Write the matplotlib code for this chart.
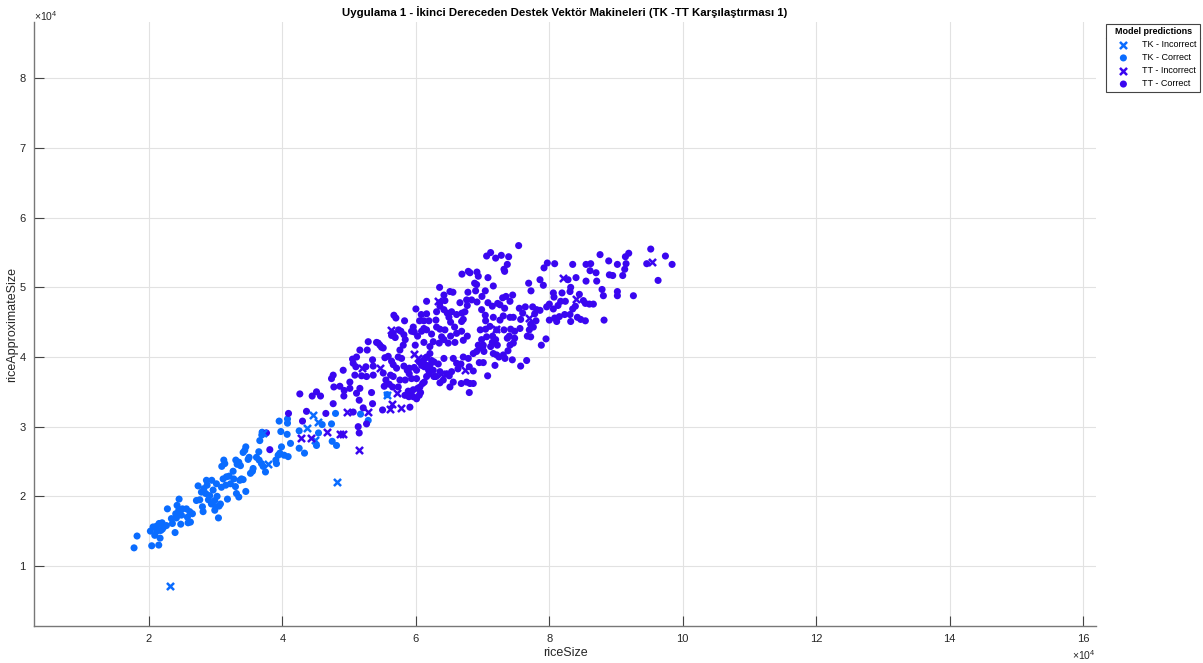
import numpy as np
import matplotlib.pyplot as plt
from matplotlib.lines import Line2D

plt.rcParams['font.family'] = ['Liberation Sans', 'DejaVu Sans']
plt.rcParams['mathtext.fontset'] = 'custom'
plt.rcParams['mathtext.rm'] = 'Liberation Sans'

# all values in units of 1e4
tk_correct_size = [1.775, 1.82, 2.04, 2.145, 2.02, 2.085, 2.165, 2.06, 2.11, 2.15,
                   2.195, 2.22, 2.175, 2.26, 2.20, 2.12, 2.39, 2.275, 2.35, 2.335,
                   2.41, 2.445, 2.475, 2.40, 2.45, 2.42, 2.50, 2.485, 2.56, 2.61,
                   2.585, 2.62, 2.65, 2.575, 2.735, 2.76, 2.71, 2.80, 2.81, 2.785,
                   2.82, 2.86, 2.87, 2.85, 2.89, 2.91, 2.94, 2.96, 2.935, 2.985,
                   3.01, 3.02, 3.00, 3.04, 3.05, 3.07, 2.985, 3.11, 3.135, 3.12,
                   3.09, 3.15, 3.175, 3.085, 3.16, 3.20, 3.22, 3.26, 3.295, 3.31,
                   3.27, 3.32, 3.30, 3.345, 3.37, 3.36, 3.385, 3.41, 3.345, 3.435,
                   3.41, 3.45, 3.485, 3.50, 3.45, 3.52, 3.55, 3.56, 3.61, 3.645,
                   3.65, 3.685, 3.71, 3.745, 3.66, 3.695, 3.69, 3.91, 3.90, 3.935,
                   3.96, 3.985, 3.95, 4.075, 4.075, 3.975, 4.07, 4.12, 4.025, 4.085,
                   4.25, 4.25, 4.33, 4.51, 4.54, 4.595, 4.745, 4.81, 5.57, 5.17,
                   5.285, 4.795, 4.735]
tk_correct_approx = [1.26, 1.43, 1.29, 1.30, 1.50, 1.44, 1.40, 1.56, 1.57, 1.61,
                     1.62, 1.56, 1.51, 1.58, 1.53, 1.50, 1.48, 1.82, 1.61, 1.68,
                     1.69, 1.80, 1.60, 1.75, 1.96, 1.87, 1.82, 1.73, 1.82, 1.78,
                     1.62, 1.63, 1.75, 1.70, 2.15, 1.95, 1.94, 1.85, 1.78, 2.06,
                     2.11, 2.23, 2.16, 2.04, 1.95, 2.01, 2.23, 2.09, 1.89, 1.94,
                     2.18, 2.00, 1.85, 1.69, 1.86, 1.89, 1.80, 2.25, 2.47, 2.52,
                     2.43, 2.16, 1.96, 2.13, 2.28, 2.29, 2.18, 2.36, 2.14, 2.04,
                     2.25, 2.46, 2.52, 2.49, 2.44, 2.23, 2.25, 2.24, 1.99, 2.66,
                     2.63, 2.71, 2.53, 2.56, 2.07, 2.33, 2.36, 2.40, 2.56, 2.64,
                     2.52, 2.47, 2.43, 2.35, 2.80, 2.92, 2.88, 2.47, 2.52, 2.59,
                     2.62, 2.71, 3.08, 3.11, 3.05, 2.93, 2.89, 2.76, 2.59, 2.57,
                     2.94, 2.69, 2.62, 2.73, 2.91, 3.03, 2.79, 2.73, 3.46, 3.18,
                     3.09, 3.19, 3.04]

tk_wrong_size = [2.32, 3.785, 3.705, 4.46, 4.535, 4.37, 4.49, 4.81, 5.57]
tk_wrong_approx = [0.71, 2.46, 2.91, 3.17, 3.07, 2.98, 2.81, 2.21, 3.46]

tt_wrong_size = [4.285, 4.42, 4.66, 4.86, 4.90, 5.145, 4.96, 5.285, 5.61, 5.64,
                 5.775, 5.71, 5.185, 5.46, 5.62, 5.97, 6.035, 6.335, 6.37, 6.735,
                 7.195, 7.70, 8.20, 8.40, 9.54]
tt_wrong_approx = [2.84, 2.84, 2.92, 2.90, 2.89, 2.66, 3.21, 3.21, 3.26, 3.33,
                   3.27, 3.48, 3.84, 3.84, 4.39, 4.04, 3.98, 4.81, 3.76, 3.81,
                   4.40, 4.56, 5.13, 4.83, 5.37]

tt_correct_size = [3.81, 3.76, 4.09, 4.30, 4.36, 4.65, 5.15, 4.26, 4.445, 4.51, 4.57,
                   7.06, 7.12, 7.195, 6.69, 6.785, 6.81, 6.915, 6.935, 7.08, 6.88,
                   6.91, 7.16, 7.04, 6.99, 6.78, 6.895, 6.355, 6.555, 6.42, 6.36,
                   6.435, 6.36, 6.42, 6.76, 6.835, 6.77, 6.735, 6.71, 6.685, 6.915,
                   6.985, 7.08, 7.145, 7.225, 7.04, 7.045, 7.16, 6.00, 6.08, 6.16,
                   6.055, 6.12, 6.195, 6.16, 6.12, 5.96, 5.935, 6.025, 6.085, 6.235,
                   6.30, 6.31, 6.36, 6.435, 6.495, 6.52, 6.58, 6.685, 6.61, 6.52,
                   6.385, 6.42, 6.35, 6.26, 6.21, 6.12, 6.485, 6.585, 6.71, 6.77,
                   6.965, 7.045, 7.11, 7.06, 7.15, 7.21, 6.985, 7.01, 6.935, 6.86,
                   6.91, 6.97, 7.00, 7.02, 7.12, 7.145, 7.195, 7.22, 7.16, 7.21,
                   7.245, 7.185, 7.075, 7.01, 6.95, 6.86, 6.80, 6.785, 6.71, 6.675,
                   6.63, 6.61, 6.56, 6.68, 6.76, 6.81, 6.86, 6.80, 6.51, 6.56,
                   6.46, 6.41, 6.36, 6.30, 6.36, 6.50, 6.535, 6.42, 6.335, 6.27,
                   6.21, 6.16, 6.135, 6.11, 6.085, 6.05, 6.16, 6.21, 6.125, 6.19,
                   6.235, 6.16, 6.125, 6.26, 6.20, 6.27, 6.01, 5.975, 5.90, 5.90,
                   5.935, 6.01, 6.06, 6.10, 6.025, 5.96, 5.925, 5.895, 5.96, 6.07,
                   6.05, 6.01, 5.885, 5.835, 5.91, 5.735, 5.76, 5.84, 5.87, 5.82,
                   5.785, 5.735, 5.76, 5.81, 5.84, 5.82, 5.775, 5.74, 5.66, 5.69,
                   5.635, 5.67, 5.70, 5.83, 5.99, 5.975, 6.16, 6.51, 6.66, 6.69,
                   6.61, 6.535, 6.47, 6.31, 5.435, 5.46, 5.485, 5.51, 5.41, 5.285,
                   5.27, 5.16, 5.11, 5.05, 5.06, 5.10, 5.25, 5.35, 5.36, 5.51,
                   5.535, 5.585, 5.635, 5.66, 5.71, 5.62, 5.66, 5.55, 5.60, 5.65,
                   5.525, 5.36, 5.26, 5.185, 5.085, 5.01, 4.91, 4.76, 4.735, 4.77,
                   4.86, 4.925, 5.01, 4.92, 5.11, 5.16, 5.335, 5.50, 5.06, 5.135,
                   5.26, 4.76, 5.15, 5.35, 5.21,
                   7.54, 7.28, 7.39, 7.37, 7.32, 7.33, 7.30, 7.35, 7.45, 7.41,
                   7.26, 7.33, 7.69, 7.725, 7.86, 7.91, 7.92, 7.97, 8.08, 8.06,
                   8.28, 8.40, 8.35, 8.32, 8.31, 8.55, 8.62, 8.61, 8.70, 8.76,
                   8.89, 9.02, 9.14, 9.19, 9.15, 9.13, 9.10, 8.90, 8.95, 8.55,
                   8.71, 8.79, 8.81, 9.02, 9.02, 9.26, 9.46, 9.52, 9.74, 9.84,
                   9.63, 8.07, 8.00, 8.06, 8.17, 8.19, 8.13, 8.24, 8.45, 8.39,
                   8.51, 8.54, 8.60, 8.66, 8.35, 8.31, 8.32, 8.42, 8.47, 8.54,
                   8.82, 8.23, 8.15, 8.08, 8.11, 8.00, 7.96, 7.86, 7.81, 7.75,
                   7.64, 7.55, 7.60, 7.57, 7.72, 7.80, 7.76, 7.70, 7.72, 7.67,
                   7.56, 7.48, 7.42, 7.32, 7.40, 7.37, 7.48, 7.41, 7.46, 7.38,
                   7.31, 7.335, 7.445, 7.57, 7.66, 7.88, 7.95, 7.78, 7.41, 7.46,
                   7.31, 7.26]
tt_correct_approx = [2.67, 2.91, 3.19, 3.08, 3.22, 3.19, 2.91, 3.47, 3.44, 3.50, 3.44,
                     5.45, 5.50, 5.42, 5.19, 5.23, 5.21, 5.22, 5.16, 5.14, 5.06,
                     5.04, 5.02, 4.95, 4.87, 4.93, 4.95, 5.00, 4.93, 4.89, 4.73,
                     4.81, 4.78, 4.68, 4.82, 4.82, 4.74, 4.65, 4.54, 4.51, 4.79,
                     4.68, 4.78, 4.73, 4.77, 4.60, 4.52, 4.57, 4.69, 4.61, 4.62,
                     4.52, 4.52, 4.52, 4.39, 4.41, 4.43, 4.37, 4.30, 4.37, 4.33,
                     4.53, 4.43, 4.40, 4.39, 4.57, 4.50, 4.43, 4.37, 4.34, 4.30,
                     4.29, 4.25, 4.20, 4.22, 4.15, 4.21, 4.20, 4.21, 4.24, 4.30,
                     4.39, 4.40, 4.44, 4.29, 4.30, 4.39, 4.25, 4.17, 4.17, 4.05,
                     4.08, 4.13, 4.14, 4.08, 4.15, 4.21, 4.25, 4.17, 4.05, 4.03,
                     4.00, 3.88, 3.73, 3.92, 3.92, 3.80, 3.86, 3.98, 4.00, 3.90,
                     3.83, 3.91, 3.98, 3.62, 3.64, 3.62, 3.62, 3.49, 3.57, 3.64,
                     3.76, 3.67, 3.79, 3.72, 3.63, 3.73, 3.79, 3.98, 3.90, 3.93,
                     4.05, 4.00, 3.98, 3.95, 3.88, 3.93, 3.88, 3.88, 3.86, 3.81,
                     3.95, 3.72, 3.64, 3.81, 3.76, 3.72, 3.81, 3.85, 3.84, 3.76,
                     3.69, 3.69, 3.57, 3.62, 3.55, 3.53, 3.48, 3.43, 3.43, 3.49,
                     3.45, 3.40, 3.51, 3.45, 3.28, 3.57, 3.67, 3.67, 3.81, 3.87,
                     3.98, 4.00, 4.10, 4.17, 4.25, 4.32, 4.37, 4.39, 4.34, 4.28,
                     4.31, 4.60, 4.56, 4.52, 4.17, 4.36, 4.80, 4.94, 4.78, 4.63,
                     4.61, 4.65, 4.63, 4.65, 4.20, 4.17, 4.14, 4.13, 4.21, 4.22,
                     4.10, 4.10, 4.00, 3.97, 3.91, 3.86, 3.86, 3.96, 3.87, 3.77,
                     3.99, 4.01, 3.94, 3.89, 3.84, 3.74, 3.72, 3.67, 3.61, 3.57,
                     3.58, 3.74, 3.72, 3.73, 3.74, 3.64, 3.81, 3.74, 3.69, 3.57,
                     3.58, 3.52, 3.55, 3.44, 3.48, 3.55, 3.49, 3.24, 3.21, 3.00,
                     3.04, 3.33, 3.38, 3.33, 3.27,
                     5.60, 5.46, 5.44, 5.33, 5.26, 5.23, 4.85, 4.87, 4.89, 4.80,
                     4.75, 4.70, 5.06, 4.95, 5.11, 5.03, 5.28, 5.35, 5.34, 4.92,
                     5.11, 5.14, 5.33, 5.00, 4.94, 5.33, 5.34, 5.24, 5.21, 5.47,
                     5.38, 5.33, 5.44, 5.49, 5.34, 5.26, 5.17, 5.18, 5.17, 5.09,
                     5.09, 4.97, 4.88, 4.94, 4.88, 4.88, 5.34, 5.55, 5.45, 5.33,
                     5.10, 4.86, 4.76, 4.69, 4.80, 4.92, 4.74, 4.80, 4.90, 4.73,
                     4.81, 4.77, 4.76, 4.76, 4.69, 4.61, 4.51, 4.57, 4.54, 4.52,
                     4.53, 4.61, 4.58, 4.56, 4.51, 4.53, 4.72, 4.67, 4.68, 4.72,
                     4.72, 4.70, 4.63, 4.54, 4.47, 4.52, 4.43, 4.39, 4.29, 4.30,
                     4.41, 4.37, 4.40, 4.39, 4.30, 4.27, 4.27, 4.17, 4.20, 4.09,
                     4.03, 3.98, 3.96, 3.87, 3.95, 4.17, 4.26, 4.62, 4.57, 4.57,
                     4.59, 4.53]

x_ticks = [2, 4, 6, 8, 10, 12, 14, 16]
y_ticks = [1, 2, 3, 4, 5, 6, 7, 8]

scale = 1e4
tk_color = '#0a6cff'
tt_color = '#3a06f0'
text_color = '#262626'

fig = plt.figure(figsize=(12.03, 6.63), dpi=100)
ax = fig.add_axes([0.0283, 0.0558, 0.8828, 0.911])

def pts(a):
    return np.asarray(a) * scale

h1 = ax.scatter(pts(tk_wrong_size), pts(tk_wrong_approx), marker='x', s=26,
                linewidths=1.8, color=tk_color, zorder=4, label='TK - Incorrect')
h2 = ax.scatter(pts(tk_correct_size), pts(tk_correct_approx), marker='o', s=26,
                color=tk_color, edgecolors='none', zorder=3, label='TK - Correct')
h3 = ax.scatter(pts(tt_wrong_size), pts(tt_wrong_approx), marker='x', s=26,
                linewidths=1.8, color=tt_color, zorder=4, label='TT - Incorrect')
h4 = ax.scatter(pts(tt_correct_size), pts(tt_correct_approx), marker='o', s=26,
                color=tt_color, edgecolors='none', zorder=3, label='TT - Correct')

ax.set_xlim(0.276 * scale, 16.195 * scale)
ax.set_ylim(0.138 * scale, 8.81 * scale)
ax.set_xticks([v * scale for v in x_ticks])
ax.set_xticklabels([str(v) for v in x_ticks])
ax.set_yticks([v * scale for v in y_ticks])
ax.set_yticklabels([str(v) for v in y_ticks])
ax.tick_params(direction='in', length=7, width=0.8, colors='#444444',
               labelcolor=text_color, labelsize=8, pad=6)
ax.grid(True, color='#e2e2e2', linewidth=0.8)
ax.set_axisbelow(True)
for side in ['top', 'right']:
    ax.spines[side].set_visible(False)
for side in ['left', 'bottom']:
    ax.spines[side].set_color('#777777')
    ax.spines[side].set_linewidth(1.0)

ax.set_xlabel('riceSize', fontsize=9, color=text_color, labelpad=2)
ax.set_ylabel('riceApproximateSize', fontsize=9, color=text_color, labelpad=1)

# exponent markers on both axes
ax.text(0.0, 0.999, r'$\mathregular{\times10^{4}}$', transform=ax.transAxes,
        ha='left', va='bottom', fontsize=7.5, color=text_color)
ax.text(1.0, -0.048, r'$\mathregular{\times10^{4}}$', transform=ax.transAxes,
        ha='right', va='center', fontsize=7.5, color=text_color)

ax.text(0.5, 1 + 10 / 604,
        'Uygulama 1 - İkinci Dereceden Destek Vektör Makineleri (TK -TT Karşılaştırması 1)',
        transform=ax.transAxes, ha='center', va='center', fontsize=8.2,
        fontweight='bold', color='black')

leg = fig.legend(handles=[h1, h2, h3, h4], loc='upper right',
                 bbox_to_anchor=(1200 / 1203, 1 - 24 / 663),
                 title='Model predictions', fontsize=6.5,
                 title_fontproperties={'weight': 'bold', 'size': 6.5},
                 fancybox=False, framealpha=1, edgecolor='#444444',
                 borderpad=0.35, labelspacing=0.45, handletextpad=0.55,
                 handlelength=3.1, borderaxespad=0)
leg.get_frame().set_linewidth(0.8)

# separator under the legend title
fig.canvas.draw()
lb = leg.get_window_extent()
tb = leg.get_title().get_window_extent()
ysep = tb.y0 - 2
inv = fig.transFigure.inverted()
(x0, y0), (x1, _) = inv.transform([(lb.x0, ysep), (lb.x1, ysep)])
fig.add_artist(Line2D([x0, x1], [y0, y0], color='#444444', linewidth=0.8))

fig.savefig('out.png', dpi=100)
